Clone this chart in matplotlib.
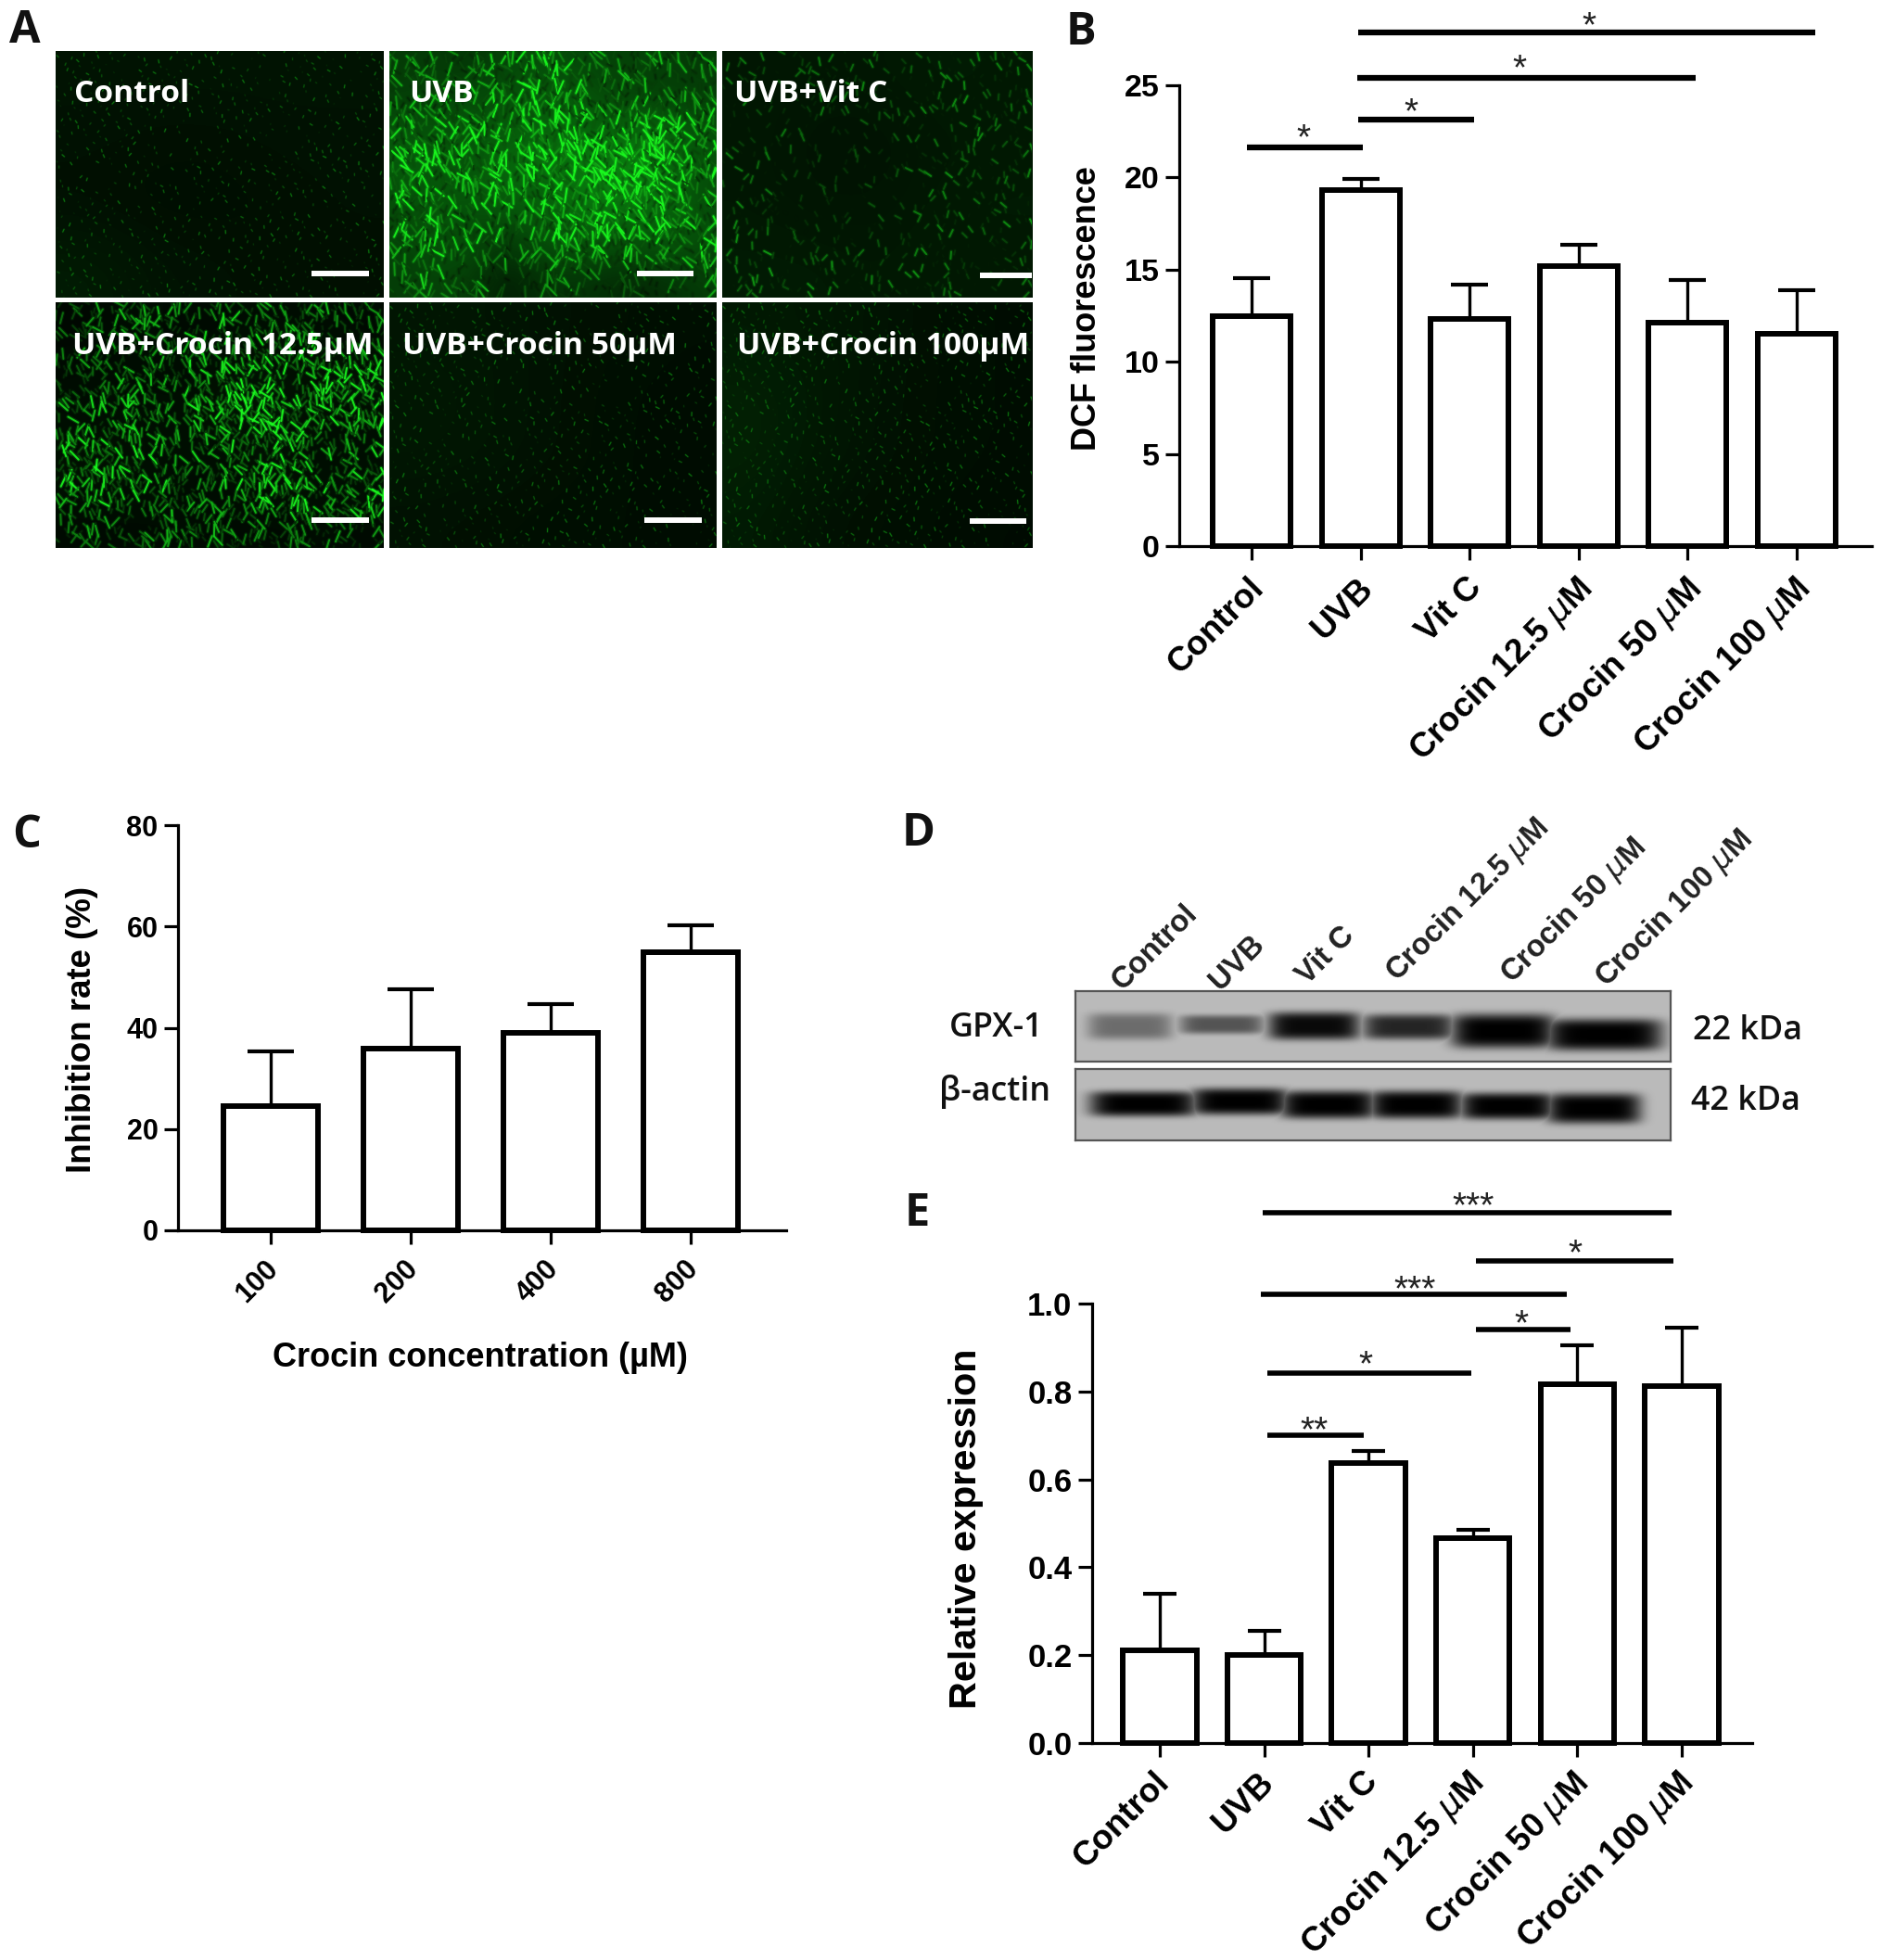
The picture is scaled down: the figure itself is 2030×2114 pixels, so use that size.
import matplotlib
matplotlib.use("Agg")
import matplotlib.pyplot as plt
import numpy as np
from matplotlib.collections import LineCollection
from matplotlib.colors import LinearSegmentedColormap
from matplotlib.transforms import ScaledTranslation

W, H = 2031, 2114
plt.rcParams['font.family'] = ['Liberation Sans', 'DejaVu Sans']
plt.rcParams['mathtext.fontset'] = 'dejavusans'

# panel B
b_labels = ['Control', 'UVB', 'Vit C', 'Crocin 12.5 $\\mu$M', 'Crocin 50 $\\mu$M', 'Crocin 100 $\\mu$M']
b_vals = [12.5, 19.3, 12.3, 15.2, 12.1, 11.5]
b_tops = [14.55, 19.9, 14.2, 16.35, 14.45, 13.9]
b_lines = [(0.98, 5.17, 27.87), (0.97, 4.07, 25.4), (0.98, 2.04, 23.15), (-0.04, 1.02, 21.65)]
b_stars = [(3.10, 28.6, '*'), (2.46, 26.3, '*'), (1.46, 23.9, '*'), (0.48, 22.5, '*')]

# panel C
c_labels = ['100', '200', '400', '800']
c_vals = [24.6, 35.8, 39.0, 54.9]
c_tops = [35.3, 47.6, 44.6, 60.2]

# panel E
e_labels = b_labels
e_vals = [0.211, 0.200, 0.638, 0.467, 0.816, 0.812]
e_tops = [0.340, 0.255, 0.664, 0.485, 0.906, 0.946]
e_lines = [(0.99, 4.90, 1.206), (3.03, 4.92, 1.098), (0.97, 3.90, 1.021),
           (3.03, 3.93, 0.940), (1.03, 2.98, 0.842), (1.03, 1.95, 0.700)]
e_stars = [(3.0, 1.238, '***'), (3.98, 1.129, '*'), (2.44, 1.048, '***'),
           (3.46, 0.969, '*'), (1.97, 0.876, '*'), (1.48, 0.727, '**')]

# panel D, bands in pixels: left, right, top, bottom, darkness
gpx_bands = [(1177, 1260, 1096, 1117, 0.42), (1276, 1359, 1097, 1112, 0.55), (1372, 1462, 1095, 1117, 0.95),
             (1474, 1564, 1097, 1117, 0.80), (1570, 1672, 1098, 1125, 1.0), (1672, 1787, 1103, 1128, 1.0)]
actin_bands = [(1180, 1286, 1180, 1200, 1.0), (1289, 1385, 1177, 1198, 1.0), (1385, 1479, 1180, 1202, 1.0),
               (1481, 1573, 1180, 1202, 1.0), (1579, 1672, 1182, 1203, 1.0), (1672, 1765, 1183, 1207, 1.0)]

# panel A, brightness on a coarse grid
control_grid = [[.10, .10, .10, .10, .10], [.09, .08, .08, .09, .09], [.08, .07, .07, .08, .09], [.14, .10, .09, .08, .08]]
uvb_grid = [[.45, .45, .40, .50, .60, .55, .50, .50, .45, .45],
            [.45, .50, .55, .60, .65, .70, .55, .50, .50, .45],
            [.60, .60, .65, .65, .70, .75, .70, .75, .70, .60],
            [.70, .65, .60, .75, .85, .85, .90, 1.0, .80, .60],
            [.60, .65, .65, .75, .70, .80, 1.0, .90, .80, .55],
            [.55, .65, .55, .55, .65, .75, .75, .70, .75, .60],
            [.50, .60, .55, .40, .50, .60, .55, .55, .60, .55],
            [.45, .50, .45, .20, .35, .40, .35, .30, .35, .45]]
vitc_grid = [[.30, .28, .30, .34, .32], [.30, .24, .22, .30, .30], [.30, .26, .26, .32, .34], [.34, .34, .30, .34, .30]]
c125_grid = [[.30, .45, .50, .45, .35, .50, .50, .50, .45, .40],
             [.40, .40, .45, .45, .50, .55, .65, .60, .55, .50],
             [.45, .50, .50, .45, .55, .70, .70, .60, .70, .70],
             [.50, .55, .60, .55, .60, .85, .80, .65, .65, .65],
             [.60, .60, .60, .55, .55, .60, .75, .60, .50, .55],
             [.65, .65, .60, .55, .50, .55, .70, .60, .55, .55],
             [.50, .55, .55, .50, .50, .50, .60, .60, .60, .60],
             [.40, .40, .40, .45, .45, .40, .40, .45, .45, .40]]
c50_grid = [[.12, .12, .10, .09, .08], [.14, .12, .10, .08, .07], [.13, .12, .10, .08, .07], [.10, .09, .08, .08, .07]]
c100_grid = [[.15, .14, .12, .09, .08], [.20, .15, .11, .09, .08], [.20, .14, .11, .09, .08], [.16, .11, .09, .08, .07]]

photo_names = ['Control', 'UVB', 'UVB+Vit C', 'UVB+Crocin 12.5µM', 'UVB+Crocin 50µM', 'UVB+Crocin 100µM']
photo_grids = [control_grid, uvb_grid, vitc_grid, c125_grid, c50_grid, c100_grid]
# left, right, top, bottom, label x, label y, scale bar left, right, y, stroke count, stroke length, ground
photo_boxes = [(60, 414, 55, 321, 80, 102, 336, 398, 295, 1100, 2.5, .45),
               (420, 773, 55, 321, 441, 102, 687, 748, 295, 2700, 12, .30),
               (779, 1113, 55, 321, 792, 102, 1057, 1113, 297, 1900, 6.5, .18),
               (60, 414, 326, 591, 78, 374, 336, 398, 561, 2900, 10, .06),
               (420, 773, 326, 591, 434, 374, 695, 757, 561, 1100, 3, .40),
               (779, 1113, 326, 591, 795, 374, 1046, 1107, 562, 1100, 3, .38)]

fig = plt.figure(figsize=(W / 100, H / 100), dpi=100)
green_map = LinearSegmentedColormap.from_list('fitc', ['black', '#0fe01a', '#5cff5c'])


def add_ax(left, right, top, bottom):
    return fig.add_axes([left / W, 1 - bottom / H, (right - left) / W, (bottom - top) / H])


# whole figure in pixels, for the loose labels
page = fig.add_axes([0, 0, 1, 1], zorder=5)
page.set_xlim(0, W)
page.set_ylim(H, 0)
page.axis('off')
page.patch.set_alpha(0)


def photo(grid, box):
    left, right, top, bottom, lx, ly, sl, sr, sy, count, length, ground = box
    ax = add_ax(left, right, top, bottom)
    ax.imshow(np.array(grid) * ground, cmap=green_map, vmin=0, vmax=1, aspect='auto',
              interpolation='bicubic', extent=(0, right - left, bottom - top, 0))
    # the photo cannot be redrawn cell by cell: short strokes stand in for its texture,
    # placed on a fixed lattice and thinned by the brightness grid above
    w, h = right - left, bottom - top
    g = np.array(grid)
    idx = np.arange(1, count + 1, dtype=float)
    xs = (idx * 0.75488) % 1
    ys = (idx * 0.56984) % 1
    keep = (idx * idx * 0.41421) % 1
    turn = (idx * idx * 0.61803) % 1
    size = (idx * idx * 0.73205) % 1
    cell = g[(ys * g.shape[0]).astype(int), (xs * g.shape[1]).astype(int)]
    chosen = keep < np.clip(cell * 1.15, 0.05, 1) + (0.6 if length < 5 else 0)
    ang = np.radians(80 + 110 * (turn - 0.5))
    half = length * (0.3 + size) / 2
    x0, y0 = xs * w, ys * h
    segs = [[(a - c, b - d), (a + c, b + d)] for a, b, c, d in
            zip(x0[chosen], y0[chosen], (half * np.cos(ang))[chosen], (half * np.sin(ang))[chosen])]
    floor = 0.35 if length < 5 else 0.2
    shade = np.clip(cell[chosen] * (0.35 + 1.5 * size[chosen] ** 2), floor * (0.4 + size[chosen]), 1)
    colors = [(0.08 * s, 0.9 * s, 0.1 * s, 0.22) for s in shade]
    bright = [(0.1 * s, 0.98 * s, 0.12 * s, 0.9) for s in shade]
    thick = 3.2 if length > 5 else 1.8
    ax.add_collection(LineCollection(segs, colors=colors, linewidths=thick, capstyle='round'))
    ax.add_collection(LineCollection(segs, colors=bright, linewidths=thick * 0.45, capstyle='round'))
    ax.set_xlim(0, w)
    ax.set_ylim(h, 0)
    ax.axis('off')
    page.plot([sl, sr], [sy, sy], color='white', lw=4.3, solid_capstyle='butt')


for name, grid, box in zip(photo_names, photo_grids, photo_boxes):
    photo(grid, box)
    page.text(box[4], box[5], name, color='white', fontsize=24.1, family=['Open Sans', 'DejaVu Sans'],
              weight='bold', ha='left', va='center')


def bars(ax, labels, vals, tops, width, ylim, yticks, cap, tick_size, x_size, shift, edge=4.3):
    x = np.arange(len(vals))
    ax.errorbar(x, vals, yerr=[np.zeros(len(vals)), np.array(tops) - np.array(vals)], fmt='none',
                ecolor='black', elinewidth=2.4, capsize=cap, capthick=3, zorder=1, clip_on=False)
    ax.bar(x, vals, width=width, color='white', edgecolor='black', linewidth=edge, zorder=2, clip_on=False)
    ax.set_ylim(*ylim)
    ax.set_yticks(yticks)
    ax.set_xticks(x)
    ax.set_xticklabels(labels, rotation=45, ha='right', rotation_mode='anchor', fontsize=x_size, fontweight='bold')
    ax.spines['top'].set_visible(False)
    ax.spines['right'].set_visible(False)
    ax.spines['left'].set_linewidth(2.3)
    ax.spines['bottom'].set_linewidth(2.3)
    ax.spines['bottom'].set_zorder(3)
    ax.tick_params(axis='both', width=2.3, length=10.5, pad=5)
    ax.tick_params(axis='y', labelsize=tick_size)
    # after tick_params, which sets the label transforms anew
    offset = ScaledTranslation(shift[0] / 100, shift[1] / 100, fig.dpi_scale_trans)
    for t in ax.get_xticklabels():
        t.set_transform(t.get_transform() + offset)
    for t in ax.get_yticklabels():
        t.set_fontweight('bold')
    ax.patch.set_alpha(0)


def marks(ax, lines, stars, lw):
    for a, b, y in lines:
        ax.plot([a, b], [y, y], color='black', lw=lw, solid_capstyle='butt', clip_on=False, zorder=4)
    for x, y, s in stars:
        ax.annotate(s, (x, y), xytext=(0, -13.5), textcoords='offset points', ha='center', va='baseline',
                    fontsize=28, color='#222222', annotation_clip=False)


ax_b = add_ax(1272, 2019, 92, 589)
bars(ax_b, b_labels, b_vals, b_tops, 0.714, (0, 25), [0, 5, 10, 15, 20, 25], 14.4, 24.5, 26.5, (-4, -6))
ax_b.set_xlim(-0.663, 5.69)
marks(ax_b, b_lines, b_stars, 4.5)

ax_c = add_ax(192, 848, 890, 1327)
bars(ax_c, c_labels, c_vals, c_tops, 0.675, (0, 80), [0, 20, 40, 60, 80], 18, 22, 22, (-7, -5))
ax_c.set_xlim(-0.662, 3.68)

ax_e = add_ax(1178, 1890, 1406, 1880)
bars(ax_e, e_labels, e_vals, e_tops, 0.705, (0, 1), [0, 0.2, 0.4, 0.6, 0.8, 1.0], 13, 25, 26.5, (-7, -3))
ax_e.set_yticklabels(['0.0', '0.2', '0.4', '0.6', '0.8', '1.0'], fontweight='bold')
ax_e.set_xlim(-0.648, 5.675)
marks(ax_e, e_lines, e_stars, 4)

# axis titles
page.text(1173, 333, 'DCF fluorescence', rotation=90, fontsize=26, fontweight='bold', ha='center', va='center')
page.text(89, 1110, 'Inhibition rate (%)', rotation=90, fontsize=26.4, fontweight='bold', ha='center', va='center')
page.text(1042, 1649, 'Relative expression', rotation=90, fontsize=29.8, fontweight='bold', ha='center', va='center')
page.text(518, 1465, 'Crocin concentration (µM)', fontsize=26, fontweight='bold', ha='center', va='center')

# blots
for bands, top, bottom in ((gpx_bands, 1069, 1145), (actin_bands, 1153, 1230)):
    left, right = 1160, 1802
    ax = add_ax(left, right, top, bottom)
    xx, yy = np.meshgrid(np.arange(left, right), np.arange(top, bottom))
    shade = np.full(xx.shape, 0.73)
    for l, r, t, b, dark in bands:
        soft = np.exp(-(np.abs((xx - (l + r) / 2) / ((r - l) * 0.55)) ** 6 + np.abs((yy - (t + b) / 2) / ((b - t) * 0.68)) ** 4))
        shade = np.minimum(shade, 0.73 * (1 - dark * soft))
    ax.imshow(shade, cmap='gray', vmin=0, vmax=1, aspect='auto', interpolation='bilinear')
    ax.set_xticks([])
    ax.set_yticks([])
    for s in ax.spines.values():
        s.set_color('#555555')
        s.set_linewidth(1.6)

open_sans = ['Open Sans', 'DejaVu Sans']
for txt, x, y, ha in (('GPX-1', 1126, 1109, 'right'), ('β-actin', 1133, 1178, 'right'),
                      ('22 kDa', 1826, 1112, 'left'), ('42 kDa', 1824, 1188, 'left')):
    page.text(x, y, txt, fontsize=25.8, family=open_sans, weight='semibold', ha=ha, va='center', color='#111111')

d_names = ['Control', 'UVB', 'Vit C', 'Crocin 12.5 $\\mu$M', 'Crocin 50 $\\mu$M', 'Crocin 100 $\\mu$M']
d_xs = [1216, 1321, 1415, 1513, 1637, 1739]
d_ys = [1074, 1074, 1068, 1066, 1068, 1072]
for txt, x, y in zip(d_names, d_xs, d_ys):
    page.text(x, y, txt, rotation=45, rotation_mode='anchor', fontsize=23.6, fontweight='bold', color='#222222',
              ha='left', va='bottom')

# panel letters
for txt, x, y in (('A', 10, 34), ('B', 1150, 35), ('C', 13, 901), ('D', 973, 899), ('E', 976, 1309)):
    page.text(x, y, txt, fontsize=35, family=open_sans, weight='bold', ha='left', va='center', color='#111111')

fig.savefig('out.png', dpi=100)
